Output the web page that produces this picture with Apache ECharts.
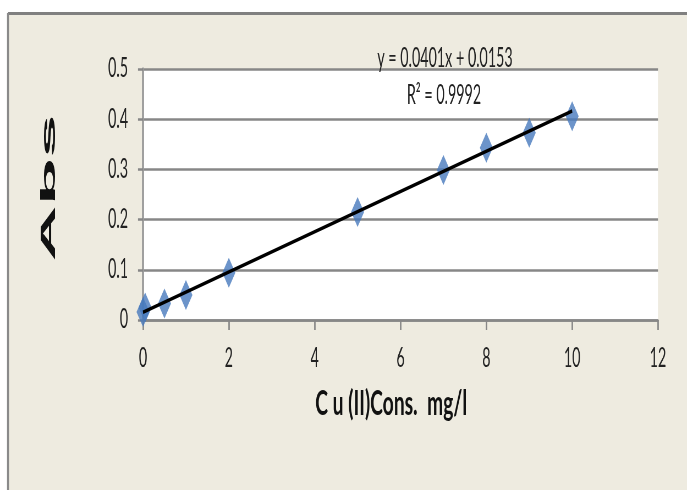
<!DOCTYPE html>
<html>
<head>
<meta charset="utf-8">
<script src="https://cdn.jsdelivr.net/npm/echarts@6/dist/echarts.min.js"></script>
<style>
  html, body { margin: 0; padding: 0; background: #fff; overflow: hidden; }
  #wrap { width: 687px; height: 490px; overflow: hidden; position: relative; }
  /* the chart is laid out on a wider canvas, then squeezed horizontally
     to give the narrow, tall lettering of the calibration plot */
  #chart { width: 1249px; height: 490px; transform: scaleX(0.55); transform-origin: 0 0; }
</style>
</head>
<body>
<div id="wrap"><div id="chart"></div></div>
<script>
// Cu(II) calibration standards: concentration (mg/l) and absorbance
const concentration = [0, 0.05, 0.5, 1, 2, 5, 7, 8, 9, 10];
const absorbance    = [0.016, 0.025, 0.033, 0.05, 0.094, 0.215, 0.299, 0.343, 0.373, 0.406];

// axis ticks
const xTicks = [0, 2, 4, 6, 8, 10, 12];
const yTicks = [0, 0.1, 0.2, 0.3, 0.4, 0.5];

// linear fit shown on the chart
const slope = 0.0401;
const intercept = 0.0153;
const rSquared = 0.9992;
const fitRange = [0, 10];

const SQ = 0.55;              // horizontal squeeze applied by CSS
const W = 1249;               // canvas width before the squeeze
const px = v => v / SQ;       // screen x -> canvas x

const points = concentration.map((c, i) => [c, absorbance[i]]);
const fitLine = fitRange.map(x => [x, slope * x + intercept]);

const labelFont = 'Lato, "Liberation Sans", sans-serif';
const gridGray = '#878787';

const chart = echarts.init(document.getElementById('chart'));
chart.setOption({
  animation: false,
  backgroundColor: '#ffffff',
  graphic: [
    // beige outer panel with grey top / left edges
    { type: 'rect', z: -10, shape: { x: px(8), y: 13, width: W, height: 490 },
      style: { fill: '#eeebe0' } },
    { type: 'line', z: -9, shape: { x1: px(8), y1: 13.5, x2: W, y2: 13.5 },
      style: { stroke: '#808080', lineWidth: 3 } },
    { type: 'line', z: -9, shape: { x1: px(8), y1: 13, x2: px(8), y2: 490 },
      style: { stroke: '#8a8a8a', lineWidth: px(2) } },
    // y-axis title, stretched along its length
    { type: 'text', z: 10, x: px(49.5), y: 188, rotation: Math.PI / 2, scaleX: 2.1,
      style: { text: 'Abs', font: 'bold 37px "Liberation Sans", Arial, sans-serif',
               fill: '#111', align: 'center', verticalAlign: 'middle' } },
    // trendline equation and R²
    { type: 'text', z: 10, x: px(445), y: 59,
      style: { text: 'y = ' + slope + 'x + ' + intercept, font: '26px ' + labelFont,
               fill: '#222', align: 'center', verticalAlign: 'middle' } },
    { type: 'text', z: 10, x: px(444), y: 96,
      style: { text: 'R² = ' + rSquared, font: '26px ' + labelFont,
               fill: '#222', align: 'center', verticalAlign: 'middle' } }
  ],
  grid: {
    left: px(143), right: W - px(658), top: 69, bottom: 490 - 320,
    show: true, backgroundColor: '#ffffff', borderWidth: 0
  },
  xAxis: {
    type: 'value',
    min: xTicks[0], max: xTicks[xTicks.length - 1], interval: xTicks[1] - xTicks[0],
    name: 'C u (II)Cons.  mg/l',
    nameLocation: 'middle', nameGap: 66,
    nameTextStyle: { fontFamily: labelFont, fontWeight: 'bold', fontSize: 35, color: '#111',
                     padding: [0, 34, 0, 0] },
    axisLine: { show: true, onZero: false, lineStyle: { color: gridGray, width: 2.5 } },
    axisTick: { show: true, inside: false, length: 10, lineStyle: { color: gridGray, width: px(1.5) } },
    axisLabel: { fontFamily: labelFont, fontSize: 26, color: '#222', margin: 26 },
    splitLine: { show: false }
  },
  yAxis: {
    type: 'value',
    min: yTicks[0], max: yTicks[yTicks.length - 1], interval: yTicks[1] - yTicks[0],
    axisLine: { show: true, onZero: false, lineStyle: { color: '#9a9a9a', width: px(2) } },
    axisTick: { show: true, inside: false, length: px(5), lineStyle: { color: gridGray, width: 2.5 } },
    axisLabel: { fontFamily: labelFont, fontSize: 26, color: '#222', margin: px(15) },
    splitLine: { show: true, lineStyle: { color: gridGray, width: 2.5 } }
  },
  series: [
    {
      name: 'Abs', type: 'scatter', data: points, z: 3,
      symbol: 'diamond', symbolSize: [px(13), 30],
      itemStyle: { color: '#4779bd' }
    },
    {
      name: 'Linear fit', type: 'line', data: fitLine, z: 4,
      symbol: 'none', silent: true,
      lineStyle: { color: '#000', width: 3.5 }
    }
  ]
});
</script>
</body>
</html>
